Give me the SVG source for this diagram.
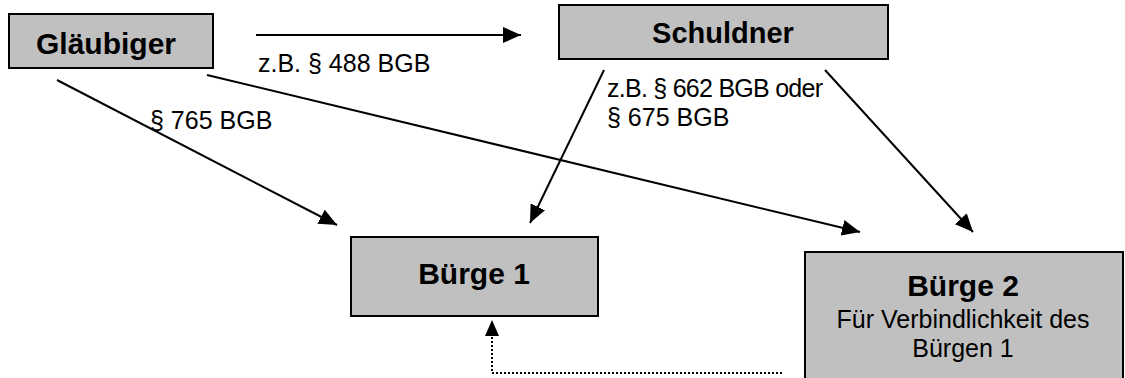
<svg xmlns="http://www.w3.org/2000/svg" width="1125" height="378" viewBox="0 0 1125 378">
  <style>
    .box { fill: #c0c0c0; stroke: #000; stroke-width: 2; }
    .title { font-family: "Liberation Sans", Arial, sans-serif; font-weight: bold; font-size: 29px; fill: #000; text-anchor: middle; }
    .sub { font-family: "Liberation Sans", Arial, sans-serif; font-size: 25px; fill: #000; text-anchor: middle; }
    .lbl { font-family: "Liberation Sans", Arial, sans-serif; font-size: 25px; fill: #000; }
    .edge { stroke: #000; stroke-width: 2; fill: none; marker-end: url(#arrow); }
    .dotted { stroke: #000; stroke-width: 2; fill: none; stroke-dasharray: 2 2; }
  </style>
  <defs>
    <marker id="arrow" markerUnits="userSpaceOnUse" markerWidth="20" markerHeight="16" refX="18" refY="8" orient="auto">
      <path d="M0,0 L18,8 L0,16 Z" fill="#000"/>
    </marker>
  </defs>

  <g id="glaeubiger">
    <rect class="box" x="9" y="14" width="204" height="54"/>
    <text class="title" x="106" y="54" style="font-size:30px">Gläubiger</text>
  </g>

  <g id="schuldner">
    <rect class="box" x="559" y="5" width="329" height="54"/>
    <text class="title" x="723" y="43">Schuldner</text>
  </g>

  <g id="buerge1">
    <rect class="box" x="351" y="237" width="247" height="79"/>
    <text class="title" x="474" y="284" style="font-size:30px">Bürge 1</text>
  </g>

  <g id="buerge2">
    <rect class="box" x="805" y="252" width="318" height="140"/>
    <text class="title" x="963" y="296" style="font-size:30px">Bürge 2</text>
    <text class="sub" x="963" y="328">Für Verbindlichkeit des</text>
    <text class="sub" x="963" y="357">Bürgen 1</text>
  </g>

  <g id="connectors">
    <line class="edge" x1="256" y1="35" x2="521" y2="35"/>
    <line class="edge" x1="57" y1="80" x2="337" y2="225"/>
    <line class="edge" x1="207" y1="75" x2="860" y2="232"/>
    <line class="edge" x1="604" y1="70" x2="530" y2="223"/>
    <line class="edge" x1="825" y1="70" x2="973" y2="232"/>
    <path class="dotted" d="M782,373 H492 V336"/>
    <path d="M492,320 L485,336 L499,336 Z" fill="#000"/>
  </g>

  <g id="labels">
    <text class="lbl" x="258" y="72">z.B. § 488 BGB</text>
    <text class="lbl" x="150" y="129">§ 765 BGB</text>
    <text class="lbl" x="607" y="97" textLength="216" lengthAdjust="spacing">z.B. § 662 BGB oder</text>
    <text class="lbl" x="607" y="126">§ 675 BGB</text>
  </g>
</svg>
